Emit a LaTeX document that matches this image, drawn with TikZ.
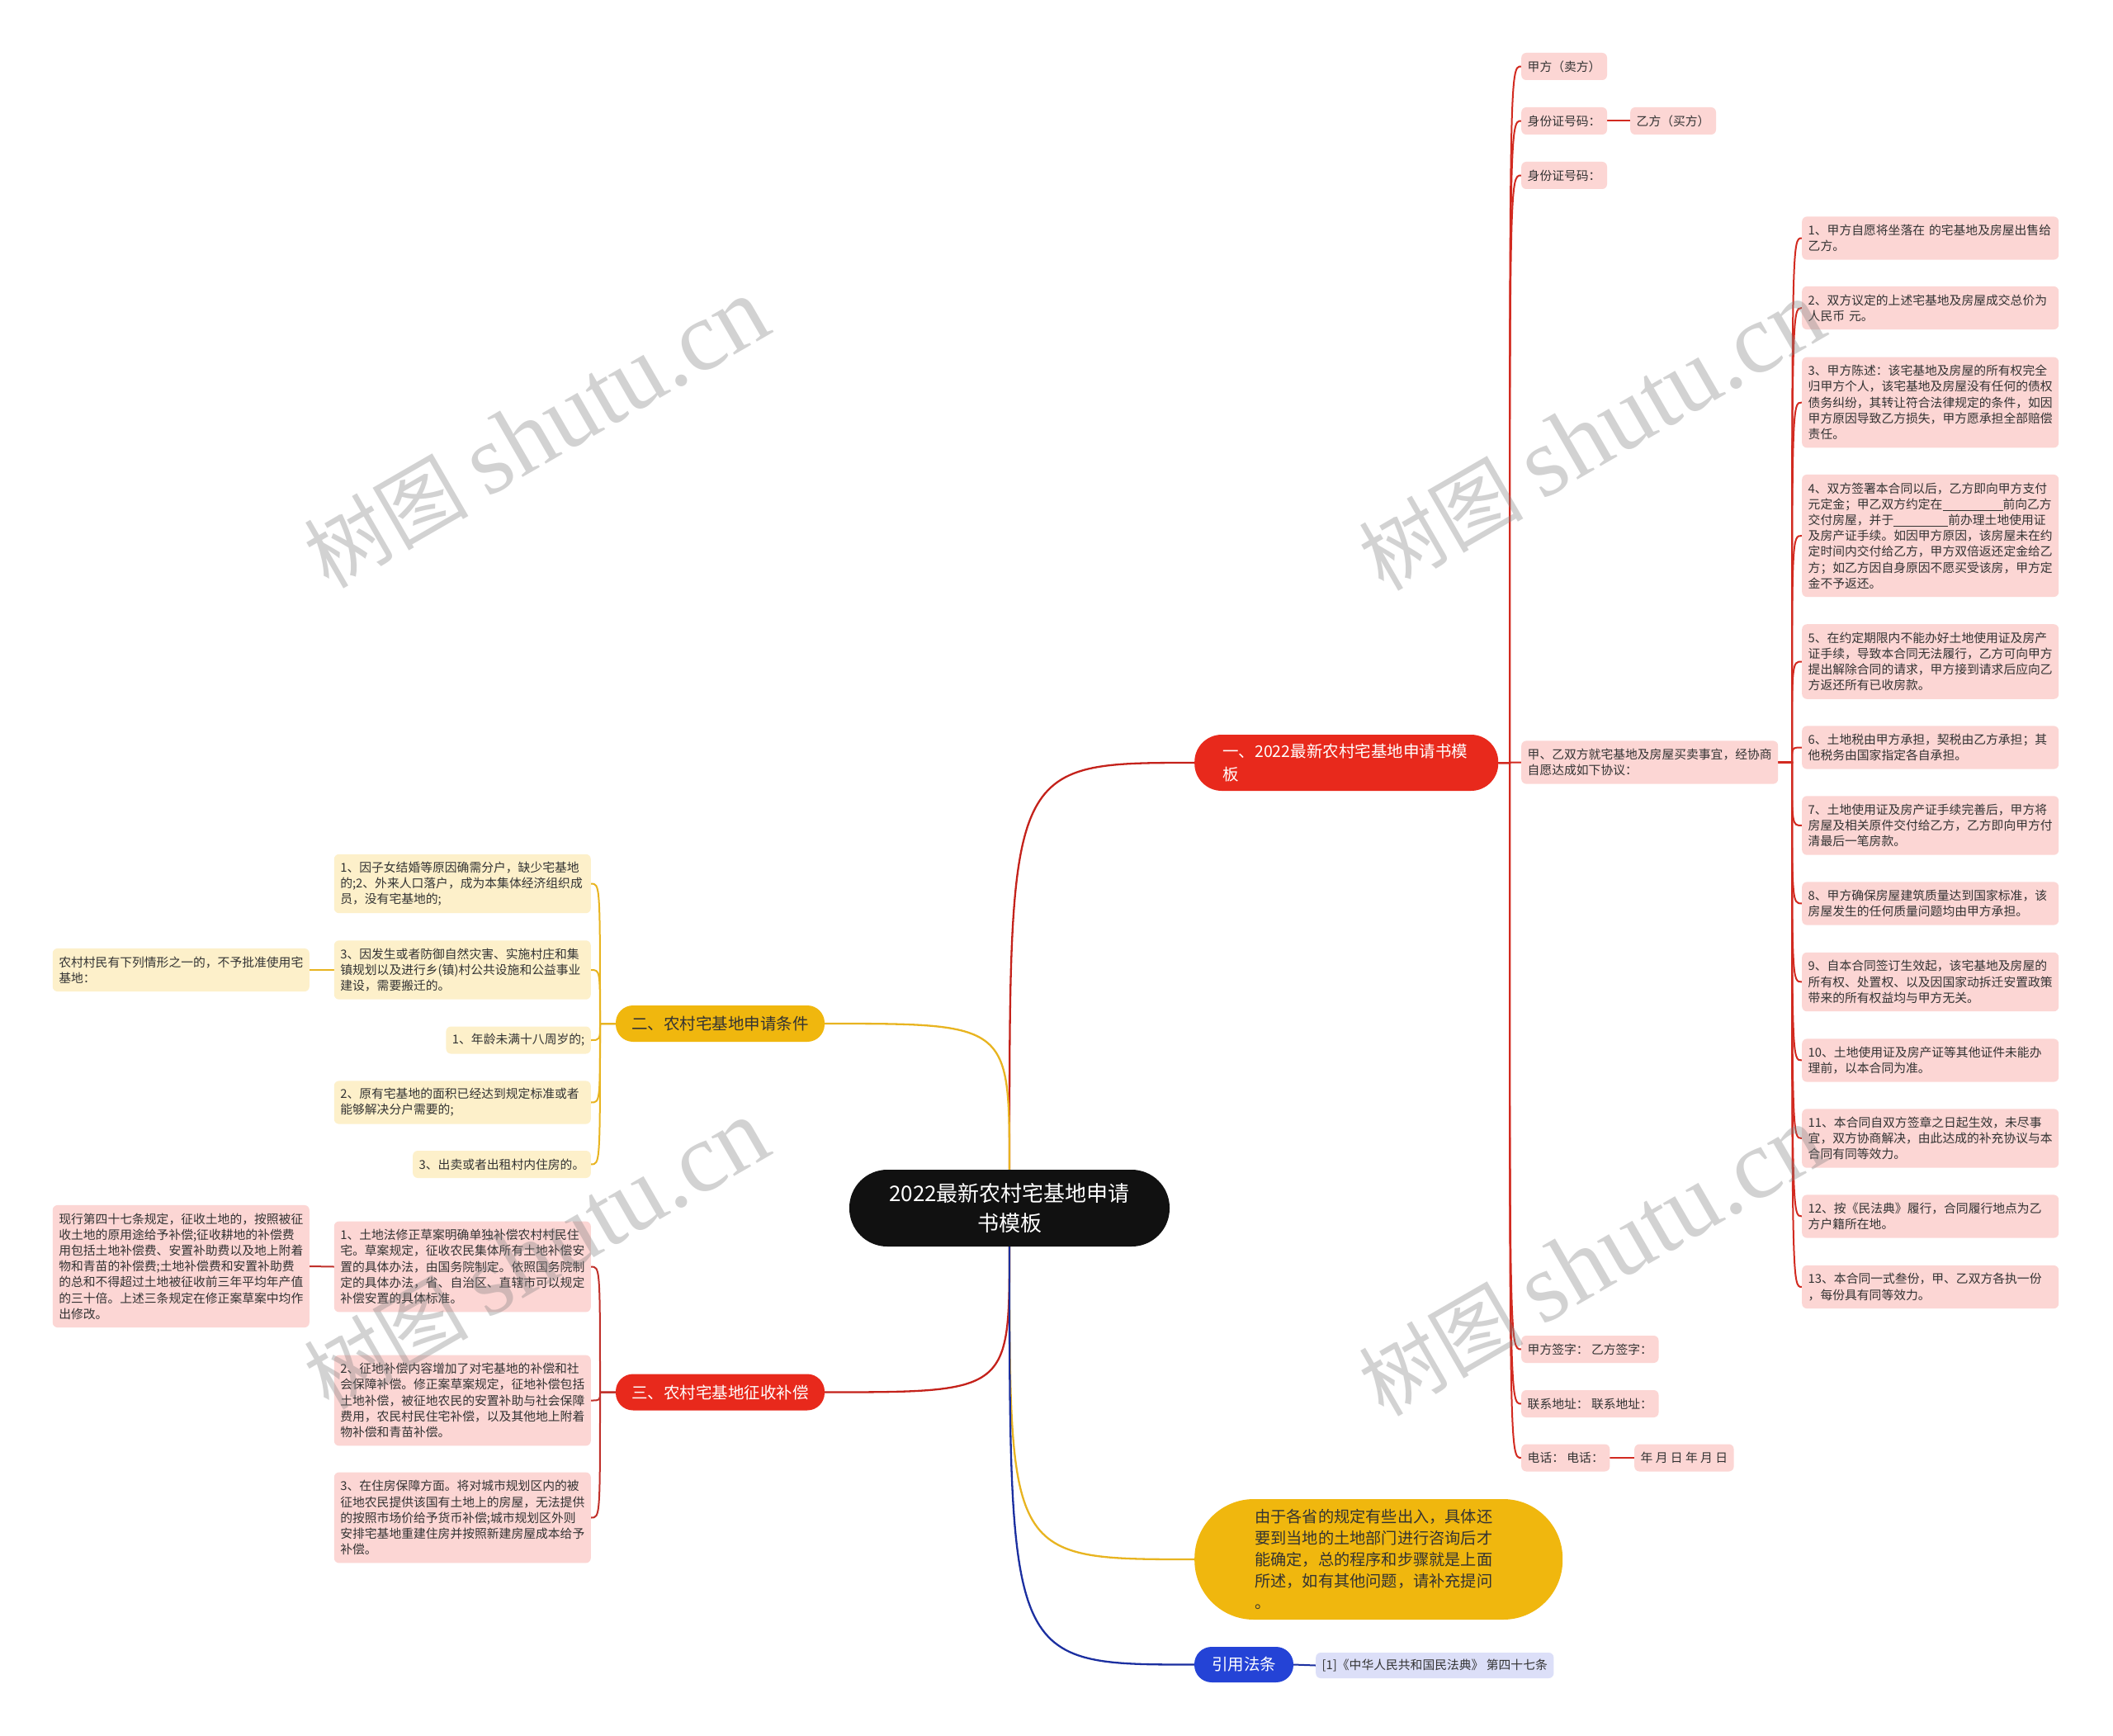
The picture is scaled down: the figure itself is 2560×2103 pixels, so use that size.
\documentclass[tikz,border=0pt]{standalone}
\usepackage{fontspec}
\setmainfont{Noto Sans CJK SC}
\newfontfamily\cjkfont{Noto Sans CJK SC}
\newfontfamily\wmfont{Liberation Serif}
\usetikzlibrary{backgrounds}
\newcommand\fsz[2]{\fontsize{#1}{#2}\selectfont}
\definecolor{rootfill}{HTML}{111111}
\definecolor{redfill}{HTML}{E8291C}
\definecolor{yelfill}{HTML}{F0B70E}
\definecolor{bluefill}{HTML}{2443D6}
\definecolor{pinkfill}{HTML}{FCD6D4}
\definecolor{creamfill}{HTML}{FDF0CA}
\definecolor{lavfill}{HTML}{DCDFF8}
\definecolor{txtc}{HTML}{333333}
\definecolor{redline}{HTML}{D22A20}
\definecolor{rootred}{HTML}{C4221B}
\definecolor{yelline}{HTML}{E8B420}
\definecolor{blueline}{HTML}{1B2FA0}
\definecolor{redthree}{HTML}{C0302A}
\begin{document}
\begin{tikzpicture}[x=1pt,y=-1pt,
  leafbase/.style={rounded corners=6pt, inner xsep=7.5pt, inner ysep=3pt, font=\fsz{14.8}{19.2}, text=txtc, align=left},
  pk/.style={leafbase, fill=pinkfill},
  cr/.style={leafbase, fill=creamfill},
  lv/.style={leafbase, fill=lavfill, minimum height=31pt},
  tw/.style={text width=296pt},
  ln1/.style={minimum height=33pt},
  ln2/.style={minimum height=52.2pt},
  ln3/.style={minimum height=71.4pt},
  ln4/.style={minimum height=90.6pt},
  ln5/.style={minimum height=109.8pt},
  ln7/.style={minimum height=148.2pt},
  conn/.style={line width=2pt, line cap=round},
  rootcon/.style={line width=2.3pt, line cap=round},
  wm/.style={rotate=30, text=gray, opacity=0.35, inner sep=0pt}
]
\useasboundingbox (0,0) rectangle (2560,2103);

% ---------- root ----------
\node[fill=rootfill, text=white, rounded corners=46pt, minimum width=388pt, minimum height=93pt, align=center, font=\fsz{26}{36}] (root) at (1223,1463.5) {2022最新农村宅基地申请\\书模板};

% ---------- main branches ----------
\node[fill=redfill, text=white, rounded corners=33pt, minimum height=68pt, text width=300pt, inner xsep=34pt, align=left, font=\fsz{19.5}{28}, anchor=west] (b1) at (1447,924) {一、2022最新农村宅基地申请书模\\板};
\node[fill=yelfill, text=txtc, rounded corners=21pt, minimum width=253pt, minimum height=44pt, font=\fsz{19.5}{24}] (b2) at (872.5,1240) {二、农村宅基地申请条件};
\node[fill=redfill, text=white, rounded corners=21pt, minimum width=253pt, minimum height=44pt, font=\fsz{19.5}{24}] (b3) at (872.5,1686.5) {三、农村宅基地征收补偿};
\node[fill=yelfill, text=txtc, rounded corners=72pt, minimum height=146pt, text width=300pt, inner xsep=73pt, align=left, font=\fsz{19.2}{26}, anchor=west] (note) at (1447,1889) {由于各省的规定有些出入，具体还\\要到当地的土地部门进行咨询后才\\能确定，总的程序和步骤就是上面\\所述，如有其他问题，请补充提问\\。};
\node[fill=bluefill, text=white, rounded corners=21pt, minimum width=120pt, minimum height=43pt, font=\fsz{19.5}{24}] (yy) at (1507,2016.5) {引用法条};
\node[lv, anchor=west] (cite) at (1594,2017.5) {[1]《中华人民共和国民法典》 第四十七条};

% ---------- branch 1 children ----------
\node[pk, ln1, anchor=west] (j1) at (1843,80.5) {甲方（卖方）};
\node[pk, ln1, anchor=west] (id1) at (1843,146.5) {身份证号码：};
\node[pk, ln1, anchor=west] (yi) at (1975,146.5) {乙方（买方）};
\node[pk, ln1, anchor=west] (id2) at (1843,212.5) {身份证号码：};
\node[pk, ln2, tw, anchor=west] (mid) at (1843,923.5) {甲、乙双方就宅基地及房屋买卖事宜，经协商\\自愿达成如下协议：};
\node[pk, ln1, anchor=west] (sig) at (1843,1634.5) {甲方签字： 乙方签字：};
\node[pk, ln1, anchor=west] (addr) at (1843,1700.5) {联系地址： 联系地址：};
\node[pk, ln1, anchor=west] (tel) at (1843,1766) {电话： 电话：};
\node[pk, ln1, anchor=west] (date) at (1980,1766) {年 月 日 年 月 日};

% ---------- agreement items ----------
\node[pk, ln2, tw, anchor=west] (r1) at (2183,288.5) {1、甲方自愿将坐落在 的宅基地及房屋出售给\\乙方。};
\node[pk, ln2, tw, anchor=west] (r2) at (2183,373) {2、双方议定的上述宅基地及房屋成交总价为\\人民币 元。};
\node[pk, ln5, tw, anchor=west] (r3) at (2183,487.5) {3、甲方陈述：该宅基地及房屋的所有权完全\\归甲方个人，该宅基地及房屋没有任何的债权\\债务纠纷，其转让符合法律规定的条件，如因\\甲方原因导致乙方损失，甲方愿承担全部赔偿\\责任。};
\node[pk, ln7, tw, anchor=west] (r4) at (2183,649) {4、双方签署本合同以后，乙方即向甲方支付\\元定金；甲乙双方约定在\rule[-2.5pt]{73pt}{0.8pt}前向乙方\\交付房屋，并于\rule[-2.5pt]{66pt}{0.8pt}前办理土地使用证\\及房产证手续。如因甲方原因，该房屋未在约\\定时间内交付给乙方，甲方双倍返还定金给乙\\方；如乙方因自身原因不愿买受该房，甲方定\\金不予返还。};
\node[pk, ln4, tw, anchor=west] (r5) at (2183,801.5) {5、在约定期限内不能办好土地使用证及房产\\证手续，导致本合同无法履行，乙方可向甲方\\提出解除合同的请求，甲方接到请求后应向乙\\方返还所有已收房款。};
\node[pk, ln2, tw, anchor=west] (r6) at (2183,905.5) {6、土地税由甲方承担，契税由乙方承担；其\\他税务由国家指定各自承担。};
\node[pk, ln3, tw, anchor=west] (r7) at (2183,1000) {7、土地使用证及房产证手续完善后，甲方将\\房屋及相关原件交付给乙方，乙方即向甲方付\\清最后一笔房款。};
\node[pk, ln2, tw, anchor=west] (r8) at (2183,1094.5) {8、甲方确保房屋建筑质量达到国家标准，该\\房屋发生的任何质量问题均由甲方承担。};
\node[pk, ln3, tw, anchor=west] (r9) at (2183,1189.5) {9、自本合同签订生效起，该宅基地及房屋的\\所有权、处置权、以及因国家动拆迁安置政策\\带来的所有权益均与甲方无关。};
\node[pk, ln2, tw, anchor=west] (r10) at (2183,1284.5) {10、土地使用证及房产证等其他证件未能办\\理前，以本合同为准。};
\node[pk, ln3, tw, anchor=west] (r11) at (2183,1379) {11、本合同自双方签章之日起生效，未尽事\\宜，双方协商解决，由此达成的补充协议与本\\合同有同等效力。};
\node[pk, ln2, tw, anchor=west] (r12) at (2183,1473.5) {12、按《民法典》履行，合同履行地点为乙\\方户籍所在地。};
\node[pk, ln2, tw, anchor=west] (r13) at (2183,1559) {13、本合同一式叁份，甲、乙双方各执一份\\，每份具有同等效力。};

% ---------- branch 2 children ----------
\node[cr, ln3, tw, anchor=east] (la) at (716,1070.5) {1、因子女结婚等原因确需分户，缺少宅基地\\的;2、外来人口落户，成为本集体经济组织成\\员，没有宅基地的;};
\node[cr, ln3, tw, anchor=east] (lb) at (716,1175) {3、因发生或者防御自然灾害、实施村庄和集\\镇规划以及进行乡(镇)村公共设施和公益事业\\建设，需要搬迁的。};
\node[cr, ln1, anchor=east] (lc) at (716,1260) {1、年龄未满十八周岁的;};
\node[cr, ln2, tw, anchor=east] (ld) at (716,1335.5) {2、原有宅基地的面积已经达到规定标准或者\\能够解决分户需要的;};
\node[cr, ln1, anchor=east] (le) at (716,1410.5) {3、出卖或者出租村内住房的。};
\node[cr, ln2, tw, anchor=east] (lbc) at (375,1175) {农村村民有下列情形之一的，不予批准使用宅\\基地：};

% ---------- branch 3 children ----------
\node[pk, ln5, tw, anchor=east] (m1) at (716,1534.5) {1、土地法修正草案明确单独补偿农村村民住\\宅。草案规定，征收农民集体所有土地补偿安\\置的具体办法，由国务院制定。依照国务院制\\定的具体办法，省、自治区、直辖市可以规定\\补偿安置的具体标准。};
\node[pk, ln5, tw, anchor=east] (m2) at (716,1696.5) {2、征地补偿内容增加了对宅基地的补偿和社\\会保障补偿。修正案草案规定，征地补偿包括\\土地补偿，被征地农民的安置补助与社会保障\\费用，农民村民住宅补偿，以及其他地上附着\\物补偿和青苗补偿。};
\node[pk, ln5, tw, anchor=east] (m3) at (716,1838.5) {3、在住房保障方面。将对城市规划区内的被\\征地农民提供该国有土地上的房屋，无法提供\\的按照市场价给予货币补偿;城市规划区外则\\安排宅基地重建住房并按照新建房屋成本给予\\补偿。};
\node[pk, ln7, tw, anchor=east] (xx) at (375,1534) {现行第四十七条规定，征收土地的，按照被征\\收土地的原用途给予补偿;征收耕地的补偿费\\用包括土地补偿费、安置补助费以及地上附着\\物和青苗的补偿费;土地补偿费和安置补助费\\的总和不得超过土地被征收前三年平均年产值\\的三十倍。上述三条规定在修正案草案中均作\\出修改。};

% ---------- spines ----------
\coordinate (s1) at (1829,0);
\coordinate (sR) at (2171,0);
\coordinate (sL) at (727,0);

% ---------- connectors ----------
\begin{scope}[on background layer]
\fill[white] (0,0) rectangle (2560,2103);
\draw[rootcon, rootred] (root.north) .. controls (root.north |- b1.west) .. (b1.west);
\draw[rootcon, yelline] (root.north) .. controls (root.north |- b2.east) .. (b2.east);
\draw[rootcon, rootred] (root.south) .. controls (root.south |- b3.east) .. (b3.east);
\draw[rootcon, yelline] (root.south) .. controls (root.south |- note.west) .. (note.west);
\draw[rootcon, blueline] (root.south) .. controls (root.south |- yy.west) .. (yy.west);
\foreach \c in {j1,id1,id2,mid,sig,addr,tel}
  \draw[conn, redline] (b1.east) -- (s1 |- b1.east) .. controls (s1 |- \c.west) .. (\c.west);
\draw[conn, redline] (id1.east) -- (yi.west);
\draw[conn, redline] (tel.east) -- (date.west);
\foreach \c in {r1,r2,r3,r4,r5,r6,r7,r8,r9,r10,r11,r12,r13}
  \draw[conn, redline] (mid.east) -- (sR |- mid.east) .. controls (sR |- \c.west) .. (\c.west);
\foreach \c in {la,lb,lc,ld,le}
  \draw[conn, yelline] (b2.west) -- (sL |- b2.west) .. controls (sL |- \c.east) .. (\c.east);
\draw[conn, yelline] (lb.west) -- (lbc.east);
\foreach \c in {m1,m2,m3}
  \draw[conn, redthree] (b3.west) -- (sL |- b3.west) .. controls (sL |- \c.east) .. (\c.east);
\draw[conn, redthree] (m1.west) -- (xx.east);
\draw[conn, blueline] (yy.east) -- (cite.west);
\end{scope}

% ---------- watermarks ----------
\node[wm] (wm1) at (650,525) {\fsz{100}{100}\cjkfont 树图 \fontsize{120}{120}\wmfont shutu.cn};
\node[wm] (wm2) at (1928,528) {\fsz{100}{100}\cjkfont 树图 \fontsize{120}{120}\wmfont shutu.cn};
\node[wm] (wm3) at (650,1520) {\fsz{100}{100}\cjkfont 树图 \fontsize{120}{120}\wmfont shutu.cn};
\node[wm] (wm4) at (1928,1528) {\fsz{100}{100}\cjkfont 树图 \fontsize{120}{120}\wmfont shutu.cn};
\end{tikzpicture}
\end{document}
